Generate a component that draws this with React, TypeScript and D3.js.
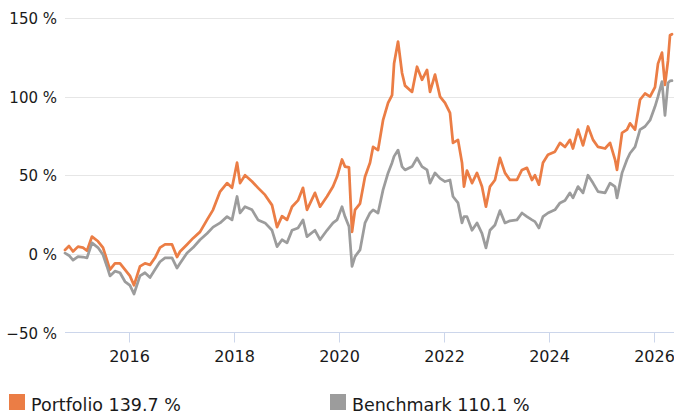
import { useMemo } from 'react'
import * as d3 from 'd3'

// sample dates as decimal years
const years = [
  2014.774, 2014.85, 2014.927, 2015.022, 2015.117, 2015.194, 2015.289, 2015.403, 2015.499, 2015.575,
  2015.632, 2015.727, 2015.823, 2015.918, 2016.013, 2016.09, 2016.204, 2016.299, 2016.395, 2016.49,
  2016.585, 2016.681, 2016.814, 2016.909, 2016.967, 2017.1, 2017.215, 2017.348, 2017.481, 2017.596,
  2017.73, 2017.863, 2017.958, 2018.054, 2018.111, 2018.206, 2018.34, 2018.454, 2018.588, 2018.721,
  2018.817, 2018.912, 2019.007, 2019.103, 2019.217, 2019.312, 2019.388, 2019.541, 2019.637, 2019.77,
  2019.885, 2019.961, 2020.056, 2020.113, 2020.189, 2020.247, 2020.304, 2020.399, 2020.494, 2020.589,
  2020.647, 2020.742, 2020.837, 2020.933, 2021.009, 2021.047, 2021.123, 2021.199, 2021.256, 2021.39,
  2021.485, 2021.58, 2021.676, 2021.733, 2021.828, 2021.924, 2022.019, 2022.114, 2022.171, 2022.267,
  2022.343, 2022.381, 2022.438, 2022.534, 2022.629, 2022.724, 2022.8, 2022.877, 2022.972, 2023.067,
  2023.163, 2023.258, 2023.392, 2023.487, 2023.582, 2023.678, 2023.735, 2023.811, 2023.888, 2023.983,
  2024.116, 2024.212, 2024.307, 2024.402, 2024.459, 2024.555, 2024.65, 2024.745, 2024.841, 2024.936,
  2025.07, 2025.165, 2025.26, 2025.298, 2025.394, 2025.489, 2025.546, 2025.642, 2025.737, 2025.832,
  2025.928, 2026.023, 2026.08, 2026.156, 2026.213, 2026.271, 2026.309, 2026.347,
]

const portfolio = [
  2.5, 5, 1.5, 4.6, 4, 2, 11, 8, 4, -4,
  -10, -6, -6, -10, -14, -20, -8, -6, -7, -2.5,
  4, 6, 6, -2, 1.5, 6, 10, 14, 21.6, 28,
  39.6, 45, 42, 58, 45, 50, 46, 42, 37.5, 31,
  17, 24, 21.6, 30, 34, 42, 28, 38.8, 30, 36.5,
  42.8, 49, 60, 55.5, 55, 14, 28, 32, 49, 58,
  68, 66, 85, 96, 101, 121, 135, 115, 107, 103,
  119, 110.7, 117, 103, 114, 100, 96, 89.7, 70.6, 72.5,
  58, 42.8, 53, 45, 51.5, 42.8, 30, 42.8, 47, 61,
  51.5, 47, 47, 53.4, 54.7, 47, 50, 44, 58, 63,
  65, 70.6, 68, 72.5, 67, 79, 69, 81, 72.5, 68,
  67, 70.6, 60, 53.4, 77, 79, 83, 79, 98, 102,
  100, 106, 121, 128, 107.5, 123, 139, 139.7,
]

const benchmark = [
  0.5, -1, -4, -1.7, -2, -2.5, 7, 4, -0.6, -8,
  -14, -11, -12, -17.6, -20, -25.5, -14, -12, -15, -10,
  -5, -2.5, -2.5, -9, -6, 0.6, 4, 9, 13, 17,
  19.7, 23.7, 21.6, 36.5, 26, 30, 28, 21.6, 19.7, 15,
  4.6, 9, 7, 15, 16.5, 21.6, 11, 15, 9, 15,
  19.7, 21.6, 30, 23.7, 17.4, -8, -1.7, 2.5, 19.7, 26,
  28, 26, 40.7, 51.5, 58, 62, 66, 55.5, 53.4, 55.5,
  61, 55.5, 53.4, 45, 51.5, 48, 46, 47, 36.5, 32.4,
  19.7, 23.7, 23.7, 15, 19.7, 13, 3.8, 15, 18.4, 27.5,
  19.7, 21, 21.6, 26, 23.7, 21.6, 20.5, 16.5, 23.7, 26,
  28, 32.4, 34, 38.8, 35.6, 42.8, 38.8, 50, 45, 39.6,
  38.8, 45, 42.8, 35.6, 51.5, 60, 64, 68, 79, 81,
  85, 93.7, 100, 109.6, 88, 108.7, 110, 110.1,
]

const yTicks = [-50, 0, 50, 100, 150]
const xTicks = [2016, 2018, 2020, 2022, 2024, 2026]

const seriesNames = ['Portfolio', 'Benchmark']
const seriesColors = ['#EB7D45', '#9C9C9C']

const W = 674
const H = 414
const font = '"DejaVu Sans", Verdana, sans-serif'

const toDate = (y: number) => {
  const yr = Math.floor(y)
  const start = new Date(yr, 0, 1).getTime()
  const end = new Date(yr + 1, 0, 1).getTime()
  return new Date(start + (y - yr) * (end - start))
}

export default function App() {
  const dates = useMemo(() => years.map(toDate), [])

  const x = d3.scaleTime()
    .domain([dates[0], dates[dates.length - 1]])
    .range([65, 672])
  const y = d3.scaleLinear().domain([-50, 150]).range([332.5, 18])

  const line = d3.line<number>()
    .x((_, i) => x(dates[i]))
    .y((d) => y(d))

  const series = [portfolio, benchmark]
  const last = [portfolio[portfolio.length - 1], benchmark[benchmark.length - 1]]

  return (
    <svg width={W} height={H} style={{ position: 'fixed', left: 0, top: 0, background: '#fff' }} fontFamily={font}>
      {/* grid */}
      {yTicks.filter((t) => t > -50).map((t) => (
        <line key={t} x1={65} x2={W} y1={Math.round(y(t)) + 0.5} y2={Math.round(y(t)) + 0.5} stroke="#e6e6e6" strokeWidth={1} />
      ))}
      {/* x axis */}
      <line x1={65} x2={W} y1={332.5} y2={332.5} stroke="#ccd6eb" strokeWidth={1} />
      {xTicks.map((t) => {
        const px = Math.round(x(toDate(t))) + 0.5
        return (
          <g key={t}>
            <line x1={px} x2={px} y1={332.5} y2={342.5} stroke="#ccd6eb" strokeWidth={1} />
            <text x={px} y={362} textAnchor="middle" fontSize={16} fill="#1a1a1a">{t}</text>
          </g>
        )
      })}
      {/* y labels */}
      {yTicks.map((t) => (
        <text key={t} x={57} y={y(t) + 6} textAnchor="end" fontSize={15} fill="#1a1a1a">
          {(t < 0 ? '\u2212' + Math.abs(t) : t) + ' %'}
        </text>
      ))}
      {/* lines */}
      {series.map((s, i) => (
        <path key={i} d={line(s) ?? ''} fill="none" stroke={seriesColors[i]} strokeWidth={2.75} strokeLinejoin="round" strokeLinecap="round" />
      ))}
      {/* legend */}
      {seriesNames.map((n, i) => {
        const lx = i === 0 ? 9 : 330
        return (
          <g key={n}>
            <rect x={lx} y={394} width={16} height={16} fill={seriesColors[i]} />
            <text x={lx + 22} y={411} fontSize={17.5} fill="#1a1a1a">
              {`${n} ${last[i].toFixed(1)} %`}
            </text>
          </g>
        )
      })}
    </svg>
  )
}
